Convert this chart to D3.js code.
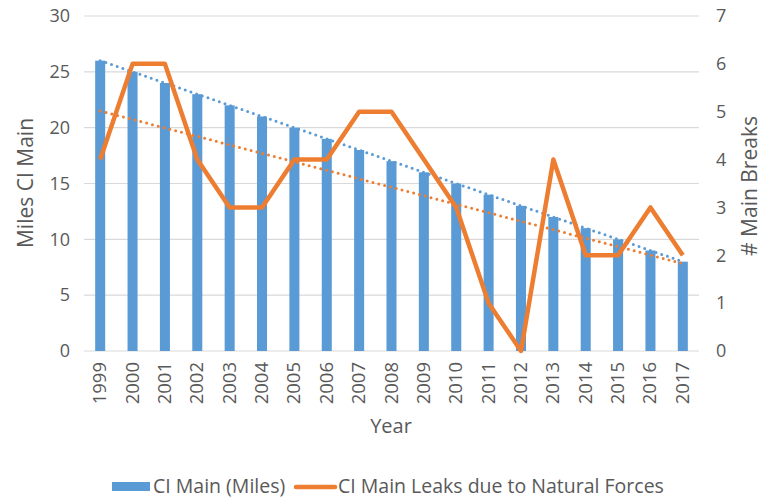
<!DOCTYPE html>
<html>
<head>
  <meta charset="utf-8">
  <title>CI Main vs breaks</title>
  <script src="https://d3js.org/d3.v7.min.js"></script>
  <style>
    body { margin: 0; background: #fff; }
    text { font-family: "Open Sans", sans-serif; fill: #595959; }
  </style>
</head>
<body>
<div id="chart"></div>
<script>
// data
var years = ["1999","2000","2001","2002","2003","2004","2005","2006","2007","2008",
             "2009","2010","2011","2012","2013","2014","2015","2016","2017"];
var miles = [26,25,24,23,22,21,20,19,18,17,16,15,14,13,12,11,10,9,8];
var breaks = [4,6,6,4,3,3,4,4,5,5,4,3,1,0,4,2,2,3,2];
var leftTicks = [0,5,10,15,20,25,30];
var rightTicks = [0,1,2,3,4,5,6,7];

var W = 769, H = 499;
var svg = d3.select("#chart").append("svg")
  .attr("width", W).attr("height", H);

var x = d3.scaleBand().domain(years).range([84, 699]).paddingInner(0.69).paddingOuter(0.345);
var yL = d3.scaleLinear().domain([0, 30]).range([351, 16]);
var yR = d3.scaleLinear().domain([0, 7]).range([351, 16]);
var cx = function(d) { return x(d) + x.bandwidth() / 2; };

// gridlines
svg.append("g").selectAll("line").data(leftTicks).enter().append("line")
  .attr("x1", 84).attr("x2", 699)
  .attr("y1", function(d) { return yL(d); }).attr("y2", function(d) { return yL(d); })
  .attr("stroke", "#d9d9d9").attr("stroke-width", 1.2);

// left axis
var axL = svg.append("g").attr("transform", "translate(78,0)")
  .call(d3.axisLeft(yL).tickValues(leftTicks).tickSize(0).tickPadding(8));
axL.select(".domain").remove();
axL.selectAll("text").style("font-size", "18px");

// right axis
var axR = svg.append("g").attr("transform", "translate(708,0)")
  .call(d3.axisRight(yR).tickValues(rightTicks).tickFormat(d3.format("d")).tickSize(0).tickPadding(8));
axR.select(".domain").remove();
axR.selectAll("text").style("font-size", "18px");

// bars
svg.append("g").selectAll("rect").data(years).enter().append("rect")
  .attr("x", function(d) { return x(d); })
  .attr("width", x.bandwidth())
  .attr("y", function(d, i) { return yL(miles[i]); })
  .attr("height", function(d, i) { return yL(0) - yL(miles[i]); })
  .attr("fill", "#5b9bd5");

// linear trend lines
function fit(vals) {
  var n = vals.length, mx = (n - 1) / 2, my = d3.mean(vals), sxy = 0, sxx = 0;
  vals.forEach(function(v, i) { sxy += (i - mx) * (v - my); sxx += (i - mx) * (i - mx); });
  var b = sxy / sxx;
  return [my - b * mx, my + b * mx];
}
var tM = fit(miles), tB = fit(breaks);
svg.append("line")
  .attr("x1", cx(years[0])).attr("x2", cx(years[years.length - 1]))
  .attr("y1", yL(tM[0])).attr("y2", yL(tM[1]))
  .attr("stroke", "#5b9bd5").attr("stroke-width", 3)
  .attr("stroke-linecap", "round").attr("stroke-dasharray", "0 6");
svg.append("line")
  .attr("x1", cx(years[0])).attr("x2", cx(years[years.length - 1]))
  .attr("y1", yR(tB[0])).attr("y2", yR(tB[1]))
  .attr("stroke", "#ed7d31").attr("stroke-width", 3)
  .attr("stroke-linecap", "round").attr("stroke-dasharray", "0 6");

// breaks line
var line = d3.line()
  .x(function(d, i) { return cx(years[i]); })
  .y(function(d) { return yR(d); });
svg.append("path").datum(breaks)
  .attr("d", line).attr("fill", "none")
  .attr("stroke", "#ed7d31").attr("stroke-width", 4.5)
  .attr("stroke-linejoin", "round");

// x labels
svg.append("g").selectAll("text").data(years).enter().append("text")
  .attr("transform", function(d) { return "translate(" + (cx(d) + 6) + ",362) rotate(-90)"; })
  .attr("text-anchor", "end")
  .style("font-size", "18.5px")
  .text(function(d) { return d; });

// axis titles
svg.append("text").attr("x", 391).attr("y", 433).attr("text-anchor", "middle")
  .style("font-size", "20px").text("Year");
svg.append("text").attr("transform", "translate(33,183) rotate(-90)").attr("text-anchor", "middle")
  .style("font-size", "21px").text("Miles CI Main");
svg.append("text").attr("transform", "translate(757,186) rotate(-90)").attr("text-anchor", "middle")
  .style("font-size", "21px").text("# Main Breaks");

// legend
svg.append("rect").attr("x", 112).attr("y", 482).attr("width", 38).attr("height", 9).attr("fill", "#5b9bd5");
svg.append("text").attr("x", 153).attr("y", 493).style("font-size", "19.5px").text("CI Main (Miles)");
svg.append("line").attr("x1", 296).attr("x2", 335).attr("y1", 487).attr("y2", 487)
  .attr("stroke", "#ed7d31").attr("stroke-width", 4.5).attr("stroke-linecap", "round");
svg.append("text").attr("x", 338).attr("y", 493).style("font-size", "19.5px").text("CI Main Leaks due to Natural Forces");
</script>
</body>
</html>
